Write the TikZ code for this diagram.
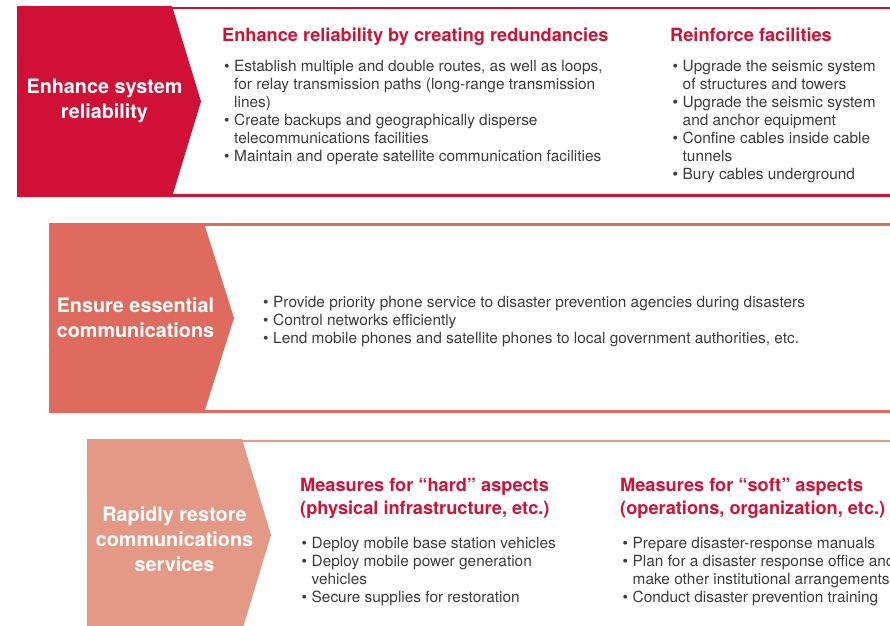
\documentclass[tikz,border=0pt]{standalone}
\usepackage{fontspec}
\setmainfont{TeX Gyre Heros}
\definecolor{bandA}{RGB}{208,16,52}
\definecolor{bandB}{RGB}{222,107,94}
\definecolor{bandC}{RGB}{228,152,134}
\definecolor{titre}{RGB}{210,17,55}
\definecolor{corps}{RGB}{62,58,57}
\newcommand{\puce}{\makebox[10pt][l]{\textbullet}}
\newcommand{\suite}{\hspace*{10pt}}
\begin{document}
\begin{tikzpicture}[x=1pt,y=-1pt,
	head/.style={text=white, inner sep=0pt, align=center, font=\fontsize{19.8}{25}\selectfont\bfseries},
	titl/.style={anchor=base west, inner sep=0pt, align=left, text=titre, font=\fontsize{18.2}{23}\selectfont\bfseries},
	body/.style={anchor=base west, inner sep=0pt, align=left, text=corps, font=\fontsize{15.4}{18}\selectfont},
	rule/.style={line width=2.5pt}]
	\useasboundingbox (0,0) rectangle (890,625);
	\clip (0,0) rectangle (890,625);
	% band 1 (nodes are anchored at the baseline of their last line)
	\draw[rule, bandA] (172,7.75) -- (890,7.75);
	\draw[rule, bandA] (172,195.25) -- (890,195.25);
	\fill[bandA] (17,6) -- (172,6) -- (201,101.5) -- (172,197) -- (17,197) -- cycle;
	\node[head] (sysrel) at (104.5,100.5) {Enhance system\\reliability};
	\node[titl] (redund) at (222,41) {Enhance reliability by creating redundancies};
	\node[body] (redundlist) at (224,161.5) {\puce Establish multiple and double routes, as well as loops,\\
		\suite for relay transmission paths (long-range transmission\\
		\suite lines)\\
		\puce Create backups and geographically disperse\\
		\suite telecommunications facilities\\
		\puce Maintain and operate satellite communication facilities};
	\node[titl] (reinf) at (670,41) {Reinforce facilities};
	\node[body] (reinflist) at (672.5,179.5) {\puce Upgrade the seismic system\\
		\suite of structures and towers\\
		\puce Upgrade the seismic system\\
		\suite and anchor equipment\\
		\puce Confine cables inside cable\\
		\suite tunnels\\
		\puce Bury cables underground};
	% band 2
	\draw[rule, bandB] (204,224.5) -- (890,224.5);
	\draw[rule, bandB] (204,411.5) -- (890,411.5);
	\fill[bandB] (49,223) -- (204,223) -- (234,318) -- (204,413) -- (49,413) -- cycle;
	\node[head] (esscom) at (135.5,318) {Ensure essential\\communications};
	\node[body] (esslist) at (263,343.5) {\puce Provide priority phone service to disaster prevention agencies during disasters\\
		\puce Control networks efficiently\\
		\puce Lend mobile phones and satellite phones to local government authorities, etc.};
	% band 3
	\draw[rule, bandC] (242,441) -- (890,441);
	\fill[bandC] (87,439) -- (242,439) -- (271,535) -- (242,631) -- (87,631) -- cycle;
	\node[head] (restore) at (174.5,538.7) {Rapidly restore\\communications\\services};
	\node[titl] (hard) at (300,514) {Measures for “hard” aspects\\(physical infrastructure, etc.)};
	\node[body] (hardlist) at (301.5,602.5) {\puce Deploy mobile base station vehicles\\
		\puce Deploy mobile power generation\\
		\suite vehicles\\
		\puce Secure supplies for restoration};
	\node[titl] (soft) at (620,514) {Measures for “soft” aspects\\(operations, organization, etc.)};
	\node[body] (softlist) at (622.5,602.5) {\puce Prepare disaster-response manuals\\
		\puce Plan for a disaster response office and\\
		\suite make other institutional arrangements\\
		\puce Conduct disaster prevention training};
\end{tikzpicture}
\end{document}
